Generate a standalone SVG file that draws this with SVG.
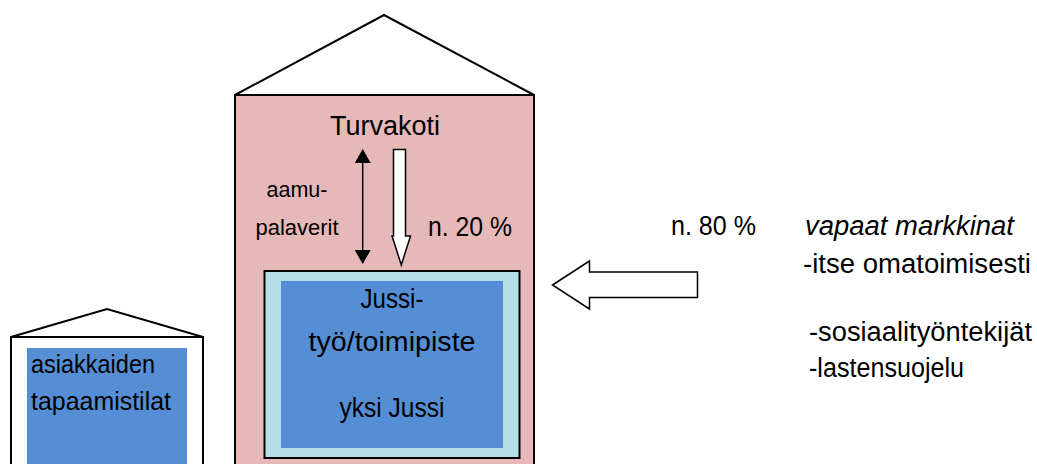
<svg xmlns="http://www.w3.org/2000/svg" width="1037" height="464" viewBox="0 0 1037 464">
<defs>
<style>
.t{font-family:"Liberation Sans",Arial,sans-serif;fill:#000}
.big{font-size:27px}
.sm{font-size:21.5px}
.it{font-style:italic}
.house{stroke:#000;stroke-width:2;stroke-linejoin:miter}
</style>
<marker id="ah" viewBox="0 0 14 16" refX="13" refY="8" markerWidth="14" markerHeight="16" markerUnits="userSpaceOnUse" orient="auto-start-reverse">
<path d="M0,0 L14,8 L0,16 Z" fill="#000"/>
</marker>
</defs>
<rect width="1037" height="464" fill="#fff"/>

<g id="main-house">
<polygon class="house" points="235,95 384,15 534,95" fill="#fff"/>
<rect class="house" x="235" y="95" width="299" height="380" fill="#E6B9B8"/>
<text class="t big" x="385" y="135" text-anchor="middle" textLength="110" lengthAdjust="spacingAndGlyphs">Turvakoti</text>
</g>

<g id="jussi-box">
<rect x="264.5" y="271" width="255" height="187" fill="#B7DEE8" stroke="#000" stroke-width="2"/>
<rect x="281" y="281" width="222" height="167" fill="#558ED5"/>
<text class="t big" x="392" y="308" text-anchor="middle" textLength="63" lengthAdjust="spacingAndGlyphs">Jussi-</text>
<text class="t big" x="392" y="351" text-anchor="middle" textLength="167" lengthAdjust="spacingAndGlyphs">työ/toimipiste</text>
<text class="t big" x="392" y="417" text-anchor="middle" textLength="105" lengthAdjust="spacingAndGlyphs">yksi Jussi</text>
</g>

<g id="small-house">
<polygon class="house" points="11,337 107,309 203,337" fill="#fff"/>
<rect class="house" x="11" y="337" width="192" height="140" fill="#fff"/>
<rect x="27" y="348" width="160" height="116" fill="#558ED5"/>
<text class="t" font-size="25" x="31" y="373" textLength="124" lengthAdjust="spacingAndGlyphs">asiakkaiden</text>
<text class="t" font-size="25" x="31" y="410" textLength="140" lengthAdjust="spacingAndGlyphs">tapaamistilat</text>
</g>

<g id="labels">
<text class="t sm" x="297" y="197" text-anchor="middle" textLength="61" lengthAdjust="spacingAndGlyphs">aamu-</text>
<text class="t sm" x="297" y="235" text-anchor="middle" textLength="83" lengthAdjust="spacingAndGlyphs">palaverit</text>
<text class="t big" x="428" y="236" textLength="84" lengthAdjust="spacingAndGlyphs">n. 20 %</text>
<text class="t big" x="671" y="235" textLength="85" lengthAdjust="spacingAndGlyphs">n. 80 %</text>
<text class="t big it" x="805" y="235" textLength="209" lengthAdjust="spacingAndGlyphs">vapaat markkinat</text>
<text class="t big" x="803" y="273" textLength="228" lengthAdjust="spacingAndGlyphs">-itse omatoimisesti</text>
<text class="t big" x="809" y="341" textLength="223" lengthAdjust="spacingAndGlyphs">-sosiaalityöntekijät</text>
<text class="t big" x="809" y="377" textLength="155" lengthAdjust="spacingAndGlyphs">-lastensuojelu</text>
</g>

<g id="connectors">
<line x1="362.7" y1="150" x2="362.7" y2="263" stroke="#000" stroke-width="1.5" marker-start="url(#ah)" marker-end="url(#ah)"/>
<polygon points="393.5,149.5 405.5,149.5 405.5,236 410.5,236 401.3,265 392,236 393.5,236" fill="#fff" stroke="#000" stroke-width="1.5"/>
<polygon points="552.5,285 589.5,261 589.5,272 697.5,272 697.5,297.5 589.5,297.5 589.5,309" fill="#fff" stroke="#000" stroke-width="1.5"/>
</g>
</svg>
